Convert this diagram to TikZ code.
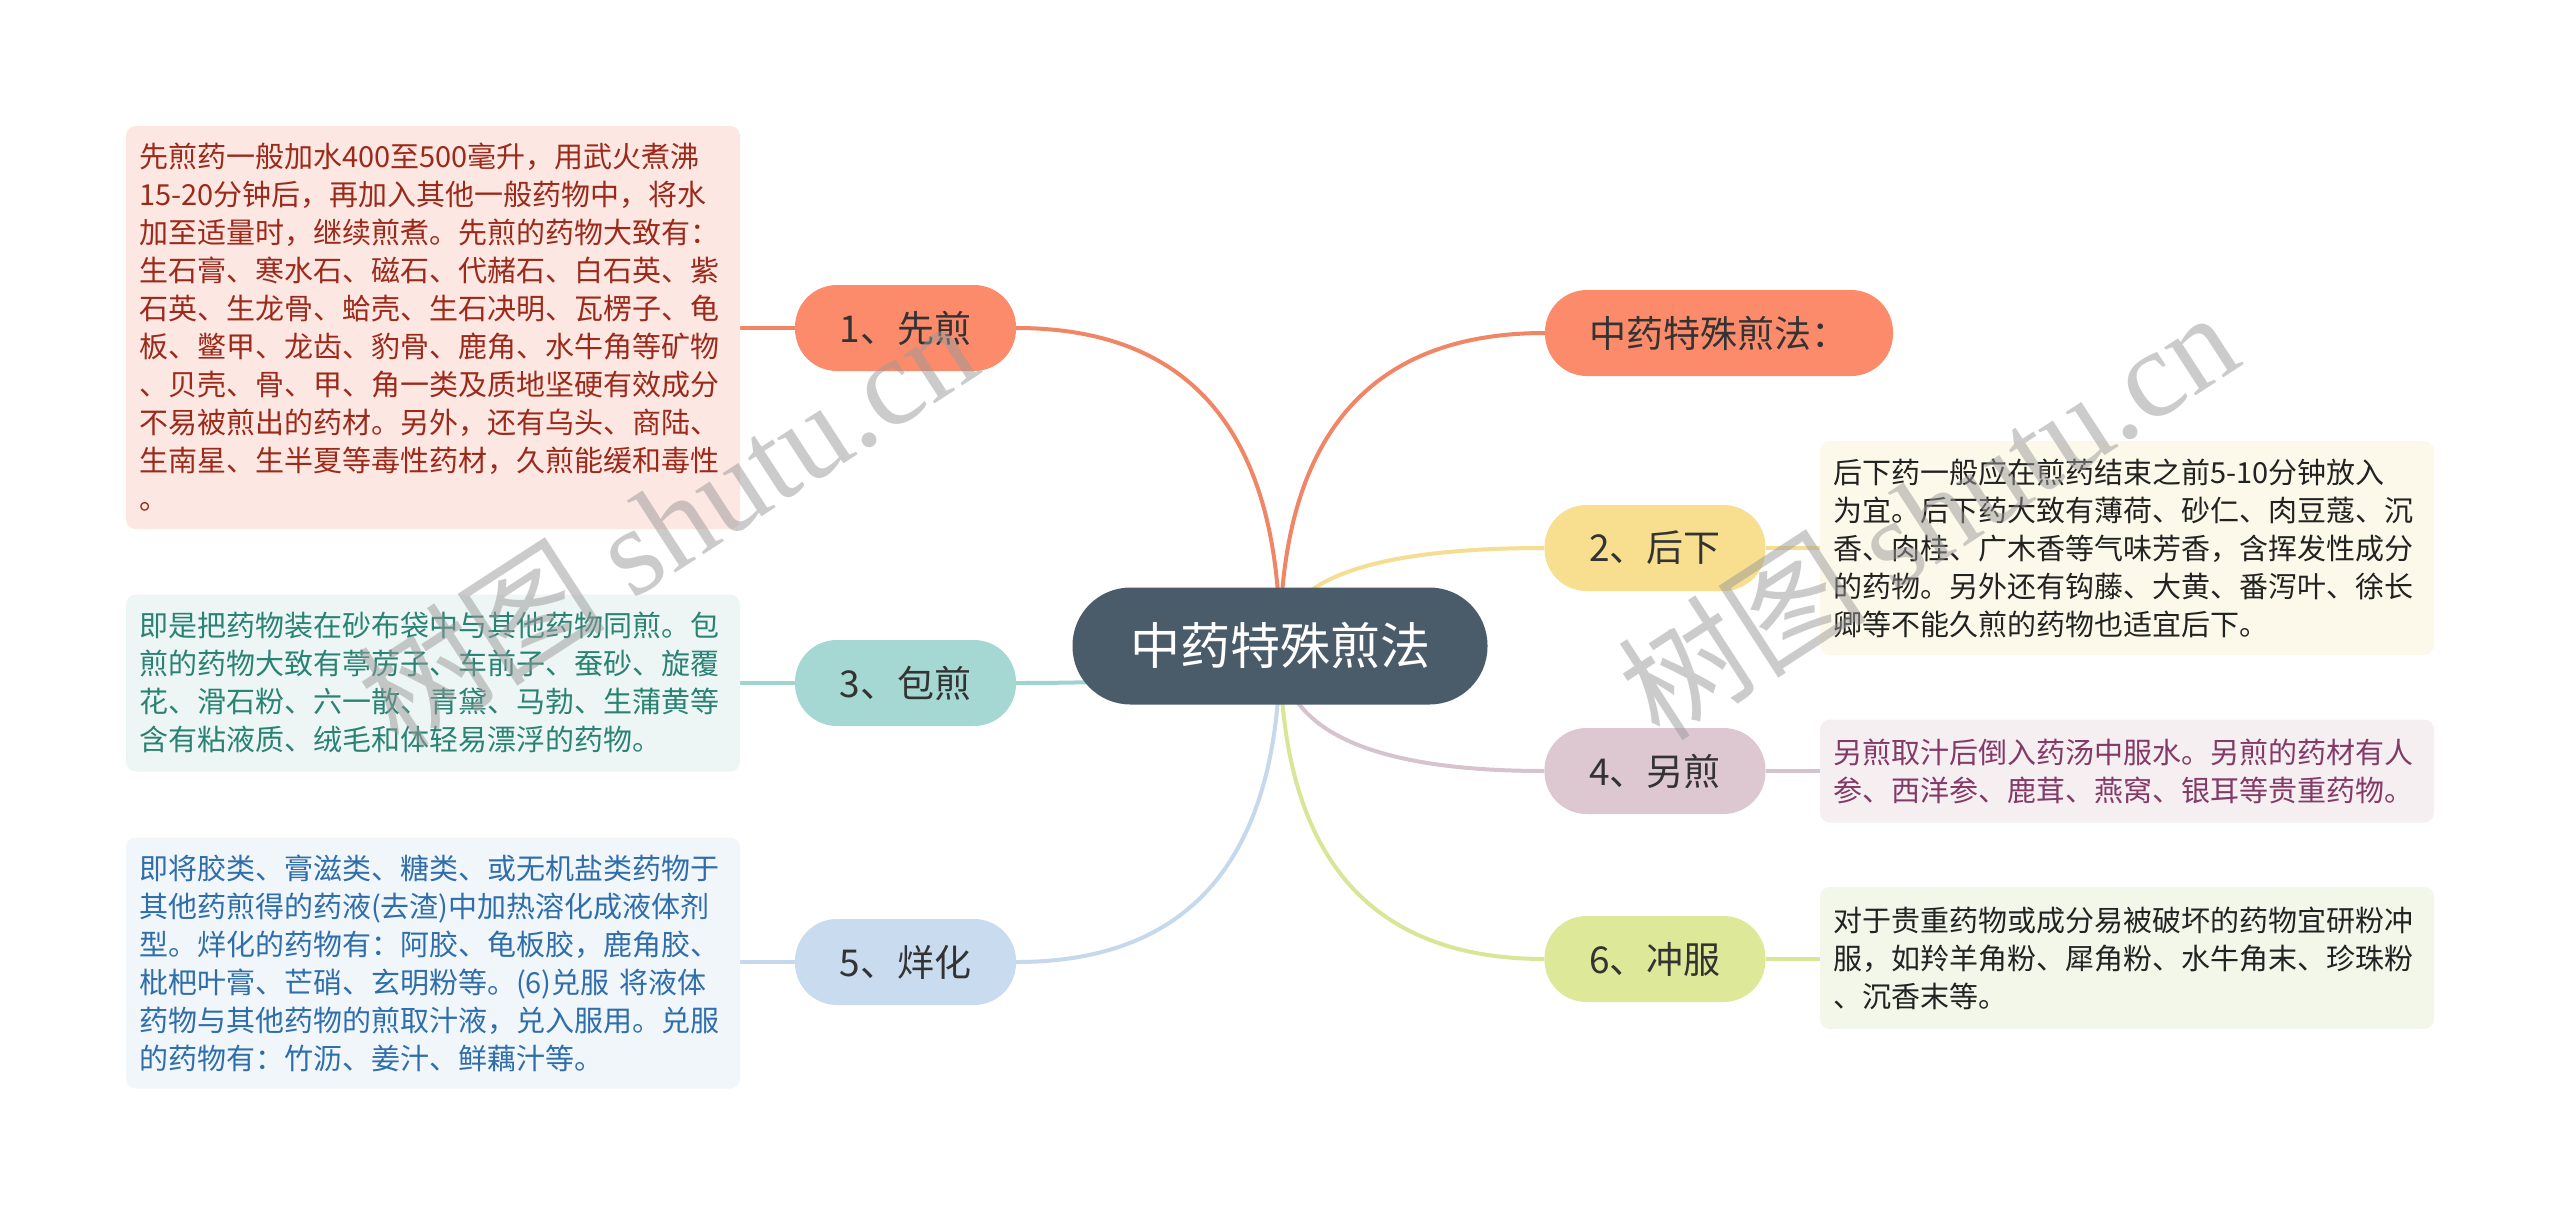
\documentclass[tikz,border=0pt]{standalone}
\usepackage{fontspec}
\setmainfont{Noto Sans CJK SC}
\newfontfamily\wmserif{Liberation Serif}
\usetikzlibrary{calc}
\pgfdeclarelayer{bottom}
\pgfdeclarelayer{background}
\pgfdeclarelayer{foreground}
\pgfsetlayers{bottom,background,main,foreground}
\definecolor{rootc}{HTML}{4A5B6A}
\definecolor{coralc}{HTML}{FC8B6B}
\definecolor{coralL}{HTML}{F08666}
\definecolor{yelc}{HTML}{F7DF8F}
\definecolor{yelL}{HTML}{F5DE92}
\definecolor{tealc}{HTML}{A5D8D3}
\definecolor{tealL}{HTML}{9FD3CD}
\definecolor{mauvec}{HTML}{DDC7D1}
\definecolor{mauveL}{HTML}{D7C3CD}
\definecolor{bluec}{HTML}{C9DBEE}
\definecolor{blueL}{HTML}{C6D9EC}
\definecolor{limec}{HTML}{DDE899}
\definecolor{limeL}{HTML}{D9E697}
\definecolor{topictext}{HTML}{333333}
\definecolor{b1fill}{HTML}{FDE7E2}
\definecolor{b1text}{HTML}{9C2A1B}
\definecolor{b3fill}{HTML}{EDF6F5}
\definecolor{b3text}{HTML}{2A8273}
\definecolor{b5fill}{HTML}{F1F6FA}
\definecolor{b5text}{HTML}{2F6EAB}
\definecolor{b2fill}{HTML}{FDF9EA}
\definecolor{b2text}{HTML}{222222}
\definecolor{b4fill}{HTML}{F5EFF2}
\definecolor{b4text}{HTML}{833A66}
\definecolor{b6fill}{HTML}{F3F7EA}
\definecolor{b6text}{HTML}{222222}
\begin{document}
\begin{tikzpicture}[x=1pt,y=-1pt,
  rootnode/.style={draw=none, fill=rootc, text=white, rounded corners=58pt,
    minimum width=415pt, minimum height=117pt, inner sep=0pt,
    font=\fontsize{50}{56}\selectfont},
  topic/.style={draw=none, text=topictext, rounded corners=42pt,
    minimum width=221pt, minimum height=86pt, inner sep=0pt,
    font=\fontsize{37}{42}\selectfont},
  note/.style={draw=none, rounded corners=10pt, minimum width=614pt,
    text width=588pt, inner xsep=13pt, inner ysep=8pt, align=left,
    font=\fontsize{29}{38}\selectfont},
  conn/.style={line width=4pt},
  mmcurve/.style={to path={.. controls ($(\tikztostart)!0.6667!(\tikztostart|-\tikztotarget)$) and ($(\tikztotarget)!0.6667!(\tikztostart|-\tikztotarget)$) .. (\tikztotarget)}},
  wm/.style={text=black!40, text opacity=0.5, inner sep=0pt,
    font=\fontsize{125}{130}\selectfont}
]
\useasboundingbox (0,0) rectangle (2560,1216);
\begin{pgfonlayer}{bottom}
\fill[white] (0,0) rectangle (2560,1216);
\end{pgfonlayer}

% root and topics
\node[rootnode] (root) at (1280,646) {中药特殊煎法};
\node[topic, fill=coralc, minimum width=348pt] (n0) at (1719,333) {中药特殊煎法：};
\node[topic, fill=coralc] (n1) at (905.5,328) {1、先煎};
\node[topic, fill=yelc] (n2) at (1655,548) {2、后下};
\node[topic, fill=tealc] (n3) at (905.5,683) {3、包煎};
\node[topic, fill=mauvec] (n4) at (1655,771) {4、另煎};
\node[topic, fill=bluec] (n5) at (905.5,962) {5、烊化};
\node[topic, fill=limec] (n6) at (1655,959) {6、冲服};

% notes
\node[note, fill=b1fill, text=b1text, minimum height=403pt] (t1) at (433,327.5) {先煎药一般加水400至500毫升，用武火煮沸\\
15-20分钟后，再加入其他一般药物中，将水\\
加至适量时，继续煎煮。先煎的药物大致有：\\
生石膏、寒水石、磁石、代赭石、白石英、紫\\
石英、生龙骨、蛤壳、生石决明、瓦楞子、龟\\
板、鳖甲、龙齿、豹骨、鹿角、水牛角等矿物\\
、贝壳、骨、甲、角一类及质地坚硬有效成分\\
不易被煎出的药材。另外，还有乌头、商陆、\\
生南星、生半夏等毒性药材，久煎能缓和毒性\\
。};
\node[note, fill=b3fill, text=b3text, minimum height=177pt] (t3) at (433,683) {即是把药物装在砂布袋中与其他药物同煎。包\\
煎的药物大致有葶苈子、车前子、蚕砂、旋覆\\
花、滑石粉、六一散、青黛、马勃、生蒲黄等\\
含有粘液质、绒毛和体轻易漂浮的药物。};
\node[note, fill=b5fill, text=b5text, minimum height=251pt] (t5) at (433,963) {即将胶类、膏滋类、糖类、或无机盐类药物于\\
其他药煎得的药液(去渣)中加热溶化成液体剂\\
型。烊化的药物有：阿胶、龟板胶，鹿角胶、\\
枇杷叶膏、芒硝、玄明粉等。(6)兑服 将液体\\
药物与其他药物的煎取汁液，兑入服用。兑服\\
的药物有：竹沥、姜汁、鲜藕汁等。};
\node[note, fill=b2fill, text=b2text, minimum height=214pt] (t2) at (2127,548) {后下药一般应在煎药结束之前5-10分钟放入\\
为宜。后下药大致有薄荷、砂仁、肉豆蔻、沉\\
香、肉桂、广木香等气味芳香，含挥发性成分\\
的药物。另外还有钩藤、大黄、番泻叶、徐长\\
卿等不能久煎的药物也适宜后下。};
\node[note, fill=b4fill, text=b4text, minimum height=103pt] (t4) at (2127,771) {另煎取汁后倒入药汤中服水。另煎的药材有人\\
参、西洋参、鹿茸、燕窝、银耳等贵重药物。};
\node[note, fill=b6fill, text=b6text, minimum height=142pt] (t6) at (2127,958) {对于贵重药物或成分易被破坏的药物宜研粉冲\\
服，如羚羊角粉、犀角粉、水牛角末、珍珠粉\\
、沉香末等。};

% connectors
\begin{pgfonlayer}{background}
\draw[conn, coralL, mmcurve] (root.center) to (n0.west);
\draw[conn, coralL, mmcurve] (root.center) to (n1.east);
\draw[conn, yelL, mmcurve] (root.center) to (n2.west);
\draw[conn, tealL, mmcurve] (root.center) to (n3.east);
\draw[conn, mauveL, mmcurve] (root.center) to (n4.west);
\draw[conn, blueL, mmcurve] (root.center) to (n5.east);
\draw[conn, limeL, mmcurve] (root.center) to (n6.west);
\draw[conn, coralL] (n1.west) -- (n1.west -| t1.east);
\draw[conn, yelL] (n2.east) -- (n2.east -| t2.west);
\draw[conn, tealL] (n3.west) -- (n3.west -| t3.east);
\draw[conn, mauveL] (n4.east) -- (n4.east -| t4.west);
\draw[conn, blueL] (n5.west) -- (n5.west -| t5.east);
\draw[conn, limeL] (n6.east) -- (n6.east -| t6.west);
\end{pgfonlayer}

% watermarks
\begin{pgfonlayer}{foreground}
\node[wm, rotate=33] (wm1) at (666,522) {树图 {\wmserif shutu.cn}};
\node[wm, rotate=33] (wm2) at (1927,514) {树图 {\wmserif shutu.cn}};
\end{pgfonlayer}
\end{tikzpicture}
\end{document}
